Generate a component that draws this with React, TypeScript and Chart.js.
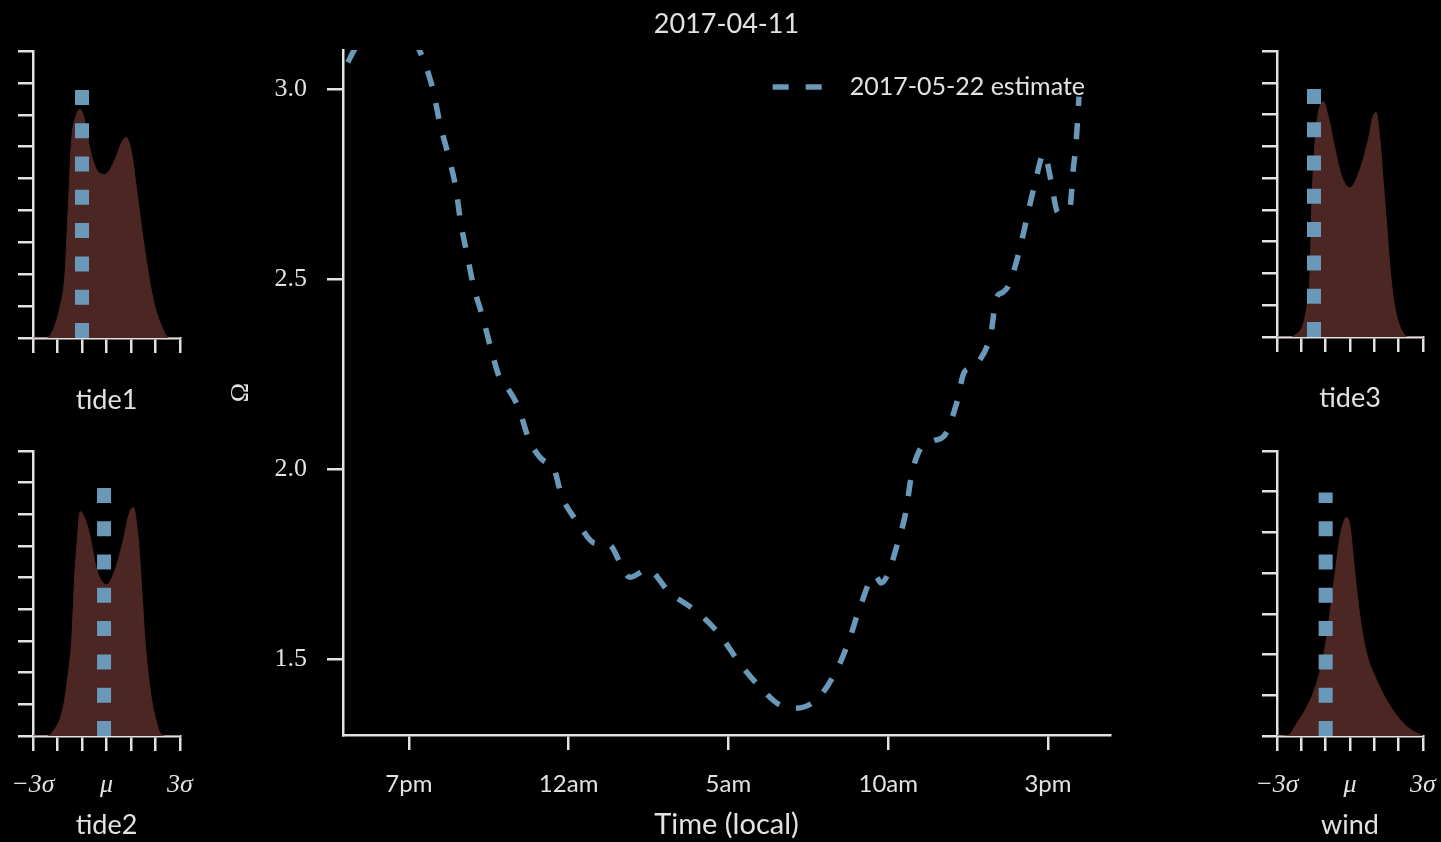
import React, { useEffect, useRef } from 'react';
import { Chart, registerables } from 'chart.js';

Chart.register(...registerables);

// ---- fonts & colours ----
const SANS = 'Lato, "DejaVu Sans", sans-serif';
const SERIF = '"Liberation Serif", "DejaVu Serif", serif';
const INK = '#e2e2e2';
const LINE_BLUE = '#6a98b9';
const DENSITY_FILL = '#4b2622';

// ---- main panel data (hours relative to local midnight) ----
const titleText = '2017-04-11';
const legendLabel = '2017-05-22 estimate';
const timeHours = [
  -6.91, -6.66, -6.22, -5.66, -5.13, -4.66, -4.25, -4.03, -3.78, -3.53, -3.38, -3.19,
  -2.97, -2.69, -2.41, -2.16, -1.97, -1.56, -1.25, -0.75, -0.5, -0.22, 0.28, 0.81,
  1.28, 1.66, 1.91, 2.47, 3.16, 4.0, 4.72, 5.34, 6.0, 6.59, 7.06, 7.78, 8.38, 8.78,
  9.09, 9.59, 9.78, 9.97, 10.28, 10.56, 10.72, 11.06, 11.44, 11.78, 12.13, 12.38,
  12.59, 12.81, 13.22, 13.38, 13.59, 13.78, 14.09, 14.31, 14.56, 14.88, 15.09, 15.31,
  15.53, 15.69, 15.78, 15.88, 15.97,
];
const estimateValues = [
  3.07, 3.11, 3.155, 3.19, 3.16, 3.1, 3.0, 2.91, 2.83, 2.74, 2.65, 2.57,
  2.48, 2.4, 2.31, 2.24, 2.22, 2.16, 2.08, 2.02, 2.01, 1.93, 1.86, 1.805,
  1.8, 1.745, 1.715, 1.735, 1.675, 1.625, 1.565, 1.49, 1.425, 1.38, 1.37, 1.395, 1.47, 1.55,
  1.63, 1.72, 1.7, 1.72, 1.8, 1.89, 1.98, 2.06, 2.075, 2.09, 2.17, 2.255,
  2.265, 2.28, 2.36, 2.45, 2.465, 2.485, 2.57, 2.65, 2.74, 2.83, 2.76, 2.675,
  2.68, 2.69, 2.78, 2.86, 2.98,
];
const timeTickHours = [-5, 0, 5, 10, 15];
const timeTickLabels = ['7pm', '12am', '5am', '10am', '3pm'];
const valueTicks = [1.5, 2.0, 2.5, 3.0];
const timeRange = [-7.06, 16.94];
const valueRange = [1.3, 3.1026];

// ---- side panels: densities over standardised units ----
const panelNames = ['tide1', 'tide2', 'tide3', 'wind'];
const tide1Sigma = [-3, -2.45, -2.24, -1.9, -1.69, -1.56, -1.42, -1.25, -1.08, -0.9, -0.67, -0.4, -0.06, 0.35, 0.6, 0.8, 1.0, 1.23, 1.5, 1.91, 2.32, 2.55, 3];
const tide1Density = [0, 0, 0.16, 0.97, 2.04, 4.12, 6.23, 6.95, 7.17, 6.85, 5.91, 5.28, 5.13, 5.6, 6.1, 6.29, 5.9, 4.65, 3.08, 1.19, 0.25, 0, 0];
const tide2Sigma = [-3, -2.45, -2.24, -1.76, -1.56, -1.42, -1.29, -1.19, -1.08, -0.9, -0.67, -0.4, 0.01, 0.35, 0.69, 0.9, 1.09, 1.3, 1.44, 1.57, 1.78, 2.05, 2.19, 2.45, 3];
const tide2Density = [0, 0, 0.09, 0.92, 1.99, 3.04, 5.16, 6.2, 7.09, 6.9, 6.3, 5.25, 4.78, 5.25, 6.2, 6.95, 7.22, 6.2, 4.62, 3.04, 1.46, 0.41, 0.09, 0, 0];
const tide3Sigma = [-3, -2.5, -2.25, -1.77, -1.64, -1.57, -1.43, -1.3, -1.09, -0.9, -0.61, -0.34, 0, 0.41, 0.75, 0.95, 1.07, 1.23, 1.36, 1.5, 1.64, 1.84, 2.18, 2.4, 3];
const tide3Density = [0, 0, 0.06, 0.95, 2.02, 4.1, 6.21, 7.07, 7.41, 6.95, 5.9, 5.05, 4.7, 5.27, 6.21, 6.95, 7.07, 6.21, 4.95, 3.6, 2.21, 0.95, 0.13, 0, 0];
const windSigma = [-3, -2.53, -2.2, -1.77, -1.37, -1.02, -0.82, -0.61, -0.41, -0.27, -0.16, 0, 0.2, 0.41, 0.68, 1.09, 1.57, 2.18, 2.6, 3];
const windDensity = [0, 0.02, 0.3, 0.72, 1.3, 2.2, 3.03, 4.01, 4.9, 5.24, 5.37, 5.15, 4.01, 2.93, 2.04, 1.38, 0.81, 0.32, 0.12, 0];
const panelSigma = [tide1Sigma, tide2Sigma, tide3Sigma, windSigma];
const panelDensity = [tide1Density, tide2Density, tide3Density, windDensity];
const markerSigma = [-1.0, -0.1, -1.48, -1.0];
const markerHeight = [7.86, 7.85, 7.85, 5.98];
const densityMax = [9, 9, 9, 7];
const sigmaTicks = [-3, -2, -1, 0, 1, 2, 3];
const sigmaLabels = ['\u22123\u03c3', '', '', '\u03bc', '', '', '3\u03c3'];

// ---- layout of the side panels (canvas box + plot-area insets) ----
type PanelBox = {
  left: number; top: number; width: number; height: number;
  yWidth: number; xHeight: number; padTop: number; padRight: number;
  showSigma: boolean; titlePad: number;
};
const panelBoxes: PanelBox[] = [
  { left: 0, top: 40, width: 200, height: 380, yWidth: 33, xHeight: 82, padTop: 11, padRight: 20, showSigma: false, titlePad: 3.8 },
  { left: 0, top: 440, width: 200, height: 402, yWidth: 33, xHeight: 106, padTop: 11, padRight: 20, showSigma: true, titlePad: 0.8 },
  { left: 1240, top: 40, width: 201, height: 380, yWidth: 37, xHeight: 83, padTop: 11, padRight: 18, showSigma: false, titlePad: 5.8 },
  { left: 1240, top: 440, width: 201, height: 402, yWidth: 37, xHeight: 106, padTop: 11, padRight: 18, showSigma: true, titlePad: 0.8 },
];

function axisLines(tickLength: number) {
  return {
    grid: {
      display: true,
      drawOnChartArea: false,
      drawTicks: true,
      tickLength,
      tickWidth: 2.5,
      tickColor: INK,
      color: INK,
      lineWidth: 2.5,
    },
    border: { display: true, color: INK, width: 2.5 },
  };
}

// Title above the plot area and the in-axes legend entry.
const headerPlugin = {
  id: 'headerAndLegend',
  afterDraw(chart: any) {
    const { ctx, chartArea } = chart;
    ctx.save();
    ctx.fillStyle = INK;
    ctx.font = `27px ${SANS}`;
    ctx.textAlign = 'center';
    ctx.textBaseline = 'middle';
    ctx.fillText(titleText, (chartArea.left + chartArea.right) / 2, chartArea.top - 26);

    ctx.font = `25px ${SANS}`;
    const textW = ctx.measureText(legendLabel).width;
    const textRight = chartArea.right - 25;
    const textLeft = textRight - textW;
    const ly = chartArea.top + 37;
    ctx.textAlign = 'left';
    ctx.fillText(legendLabel, textLeft, ly);

    ctx.strokeStyle = LINE_BLUE;
    ctx.lineWidth = 5.5;
    ctx.setLineDash([16, 17]);
    ctx.beginPath();
    ctx.moveTo(textLeft - 77, ly);
    ctx.lineTo(textLeft - 28, ly);
    ctx.stroke();
    ctx.restore();
  },
};

function mainConfig(): any {
  return {
    type: 'line',
    data: {
      datasets: [
        {
          label: legendLabel,
          data: timeHours.map((h, i) => ({ x: h, y: estimateValues[i] })),
          borderColor: LINE_BLUE,
          borderWidth: 5.5,
          borderDash: [16, 17],
          borderCapStyle: 'butt',
          pointRadius: 0,
          fill: false,
          cubicInterpolationMode: 'monotone',
        },
      ],
    },
    options: {
      animation: false,
      responsive: false,
      devicePixelRatio: 1,
      layout: { padding: { left: 220, right: 331, top: 50, bottom: 0 } },
      plugins: { legend: { display: false }, tooltip: { enabled: false }, title: { display: false } },
      scales: {
        x: {
          type: 'linear',
          min: timeRange[0],
          max: timeRange[1],
          afterBuildTicks: (s: any) => { s.ticks = timeTickHours.map((v) => ({ value: v })); },
          afterFit: (s: any) => { s.height = 107; },
          ticks: {
            autoSkip: false,
            maxRotation: 0,
            color: INK,
            padding: 20,
            font: { family: SANS, size: 24 },
            callback: (v: number) => {
              const i = timeTickHours.indexOf(v);
              return i >= 0 ? timeTickLabels[i] : '';
            },
          },
          title: {
            display: true,
            text: 'Time (local)',
            color: INK,
            font: { family: SANS, size: 29 },
            padding: { top: 0, bottom: 0 },
          },
          ...axisLines(15),
        },
        y: {
          type: 'linear',
          min: valueRange[0],
          max: valueRange[1],
          afterBuildTicks: (s: any) => { s.ticks = valueTicks.map((v) => ({ value: v })); },
          afterFit: (s: any) => { s.width = 123; },
          ticks: {
            autoSkip: false,
            color: INK,
            padding: 20,
            font: { family: SERIF, size: 26 },
            callback: (v: number) => v.toFixed(1),
          },
          title: {
            display: true,
            text: '\u03a9',
            color: INK,
            font: { family: SERIF, size: 26, lineHeight: 1 },
            padding: { top: 8, bottom: 0 },
          },
          ...axisLines(16),
        },
      },
    },
    plugins: [headerPlugin],
  };
}

function panelConfig(idx: number): any {
  const box = panelBoxes[idx];
  const sig = panelSigma[idx];
  const dens = panelDensity[idx];
  return {
    type: 'line',
    data: {
      datasets: [
        {
          data: [
            { x: markerSigma[idx], y: 0 },
            { x: markerSigma[idx], y: markerHeight[idx] },
          ],
          borderColor: LINE_BLUE,
          borderWidth: 14,
          borderDash: [15, 18.3],
          borderCapStyle: 'butt',
          pointRadius: 0,
          fill: false,
          tension: 0,
          order: 0,
        },
        {
          data: sig.map((s, i) => ({ x: s, y: dens[i] })),
          borderColor: DENSITY_FILL,
          backgroundColor: DENSITY_FILL,
          borderWidth: 1,
          pointRadius: 0,
          fill: 'origin',
          cubicInterpolationMode: 'monotone',
          order: 1,
        },
      ],
    },
    options: {
      animation: false,
      responsive: false,
      devicePixelRatio: 1,
      layout: { padding: { left: 0, right: box.padRight, top: box.padTop, bottom: 0 } },
      plugins: { legend: { display: false }, tooltip: { enabled: false } },
      scales: {
        x: {
          type: 'linear',
          min: -3,
          max: 3,
          afterBuildTicks: (s: any) => { s.ticks = sigmaTicks.map((v) => ({ value: v })); },
          afterFit: (s: any) => {
            s.height = box.xHeight;
            // keep the plot box fixed even when end labels overhang it
            s.paddingLeft = 0;
            s.paddingRight = 0;
          },
          ticks: {
            display: box.showSigma,
            autoSkip: false,
            maxRotation: 0,
            color: INK,
            padding: 18.4,
            font: { family: SERIF, size: 26, style: 'italic' },
            callback: (v: number) => {
              const i = sigmaTicks.indexOf(v);
              return i >= 0 ? sigmaLabels[i] : '';
            },
          },
          title: {
            display: true,
            text: panelNames[idx],
            color: INK,
            font: { family: SANS, size: 27 },
            padding: { top: 0, bottom: box.titlePad },
          },
          ...axisLines(15),
        },
        y: {
          type: 'linear',
          min: 0,
          max: densityMax[idx],
          ticks: { display: false, stepSize: 1 },
          afterFit: (s: any) => {
            s.width = box.yWidth;
            s.paddingTop = 0;
            s.paddingBottom = 0;
          },
          ...axisLines(15),
        },
      },
    },
  };
}

function MainPanel() {
  const ref = useRef<HTMLCanvasElement>(null);
  useEffect(() => {
    if (!ref.current) return;
    const chart = new Chart(ref.current, mainConfig());
    return () => chart.destroy();
  }, []);
  return (
    <canvas
      ref={ref}
      width={1441}
      height={842}
      style={{ position: 'absolute', left: 0, top: 0, width: 1441, height: 842 }}
    />
  );
}

function SidePanel({ idx }: { idx: number }) {
  const ref = useRef<HTMLCanvasElement>(null);
  const box = panelBoxes[idx];
  useEffect(() => {
    if (!ref.current) return;
    const chart = new Chart(ref.current, panelConfig(idx));
    return () => chart.destroy();
  }, [idx]);
  return (
    <canvas
      ref={ref}
      width={box.width}
      height={box.height}
      style={{ position: 'absolute', left: box.left, top: box.top, width: box.width, height: box.height }}
    />
  );
}

export default function App() {
  return (
    <div
      style={{
        position: 'fixed',
        left: 0,
        top: 0,
        width: 1441,
        height: 842,
        background: '#000',
        overflow: 'hidden',
      }}
    >
      <MainPanel />
      {panelNames.map((_, i) => (
        <SidePanel key={i} idx={i} />
      ))}
    </div>
  );
}
